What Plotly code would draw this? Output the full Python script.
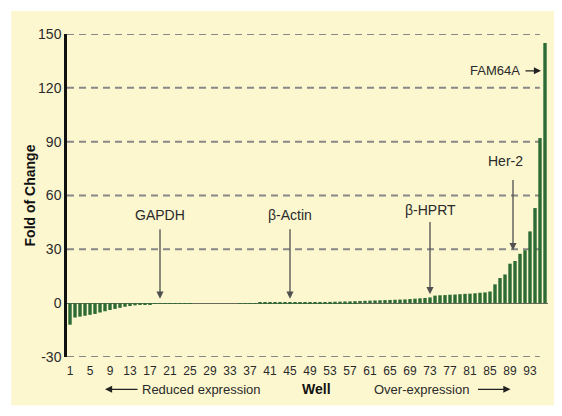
import plotly.graph_objects as go

# 96-well plate, fold of change per well (sorted)
WELLS = list(range(1, 97))
FOLD_CHANGE = [
    -12.0, -8.0, -7.5, -7.0, -6.5, -6.0, -5.2, -4.5, -3.8, -3.2,
    -2.6, -2.0, -1.6, -1.2, -0.9, -0.7, -0.5, -0.35, -0.2, -0.1,
    -0.1, -0.1, -0.05, -0.05, -0.05, 0.0, 0.0, 0.0, 0.0, 0.0,
    0.0, 0.0, 0.0, 0.0, 0.05, 0.05, 0.05, 0.05, 0.1, 0.1,
    0.1, 0.1, 0.1, 0.1, 0.15, 0.2, 0.3, 0.35, 0.4, 0.5,
    0.55, 0.6, 0.7, 0.8, 0.85, 0.95, 1.0, 1.1, 1.2, 1.3,
    1.4, 1.5, 1.6, 1.7, 1.8, 1.9, 2.0, 2.1, 2.3, 2.5,
    2.7, 2.9, 3.2, 4.2, 4.4, 4.5, 4.7, 4.8, 5.0, 5.2,
    5.3, 5.5, 5.8, 6.0, 6.5, 10.5, 14.0, 16.0, 22.0, 23.5,
    27.5, 29.5, 40.0, 53.0, 92.0, 145.0,
]

X_TICKS = list(range(1, 94, 4))
Y_TICKS = [-30, 0, 30, 60, 90, 120, 150]
Y_TICK_TEXT = ['-30', '0', '30', '60', '90', '120', '150']
GRID_Y = [-30, 30, 60, 90, 120, 150]

# gene markers: label, arrow tip (well, value), arrow tail value, label (well, value)
GENES = [
    ('GAPDH', 19, 2.5, 42, 19, 49),
    ('β-Actin', 45, 2.5, 42, 45, 49),
    ('β-HPRT', 73, 5.0, 46, 73, 52),
    ('Her-2', 89.6, 29.5, 69.5, 88.0, 79.5),
]

FONT = 'Liberation Sans, Arial, sans-serif'
CREAM = '#fcf7cf'
GREEN = '#2c6b34'
ARROW = '#505050'
TEXT = '#2a2a2a'

bars = go.Bar(
    x=WELLS, y=FOLD_CHANGE,
    marker=dict(color=GREEN, line=dict(width=0)),
    width=0.68,
    hoverinfo='x+y',
)

fig = go.Figure([bars])

shapes = [
    dict(type='rect', xref='paper', yref='paper',
         x0=-0.116, x1=1.019, y0=-0.149, y1=1.071,
         fillcolor=CREAM, line=dict(width=0), layer='below'),
]
for gy in GRID_Y:
    shapes.append(dict(type='line', xref='paper', yref='y',
                       x0=0.0, x1=0.983, y0=gy, y1=gy,
                       line=dict(color='#888888', width=2, dash='7px,5px'),
                       layer='below'))

annotations = []
for name, tx, ty, tail_y, lx, ly in GENES:
    annotations.append(dict(
        x=tx, y=ty, ax=tx, ay=tail_y, axref='x', ayref='y',
        xref='x', yref='y', text='', showarrow=True,
        arrowhead=2, arrowsize=1.1, arrowwidth=1.3, arrowcolor=ARROW,
    ))
    annotations.append(dict(
        x=lx, y=ly, xref='x', yref='y', text=name, showarrow=False,
        font=dict(family=FONT, size=14, color=TEXT),
    ))

# FAM64A with horizontal arrow
annotations.append(dict(
    x=95.2, y=129.5, ax=91.8, ay=129.5, axref='x', ayref='y',
    xref='x', yref='y', text='', showarrow=True,
    arrowhead=2, arrowsize=1.1, arrowwidth=1.3, arrowcolor='#222',
))
annotations.append(dict(
    x=86.0, y=129.5, xref='x', yref='y', text='FAM64A', showarrow=False,
    font=dict(family=FONT, size=13, color=TEXT),
))

# bottom captions
CAP_Y = -0.1
CAP = dict(xref='paper', yref='paper', xanchor='center', yanchor='middle')
annotations += [
    dict(x=0.079, y=CAP_Y, ax=34, ay=0, text='', showarrow=True,
         arrowhead=2, arrowsize=1.1, arrowwidth=1.3, arrowcolor='#222', **CAP),
    dict(x=0.279, y=CAP_Y, text='Reduced expression', showarrow=False,
         font=dict(family=FONT, size=13, color=TEXT), **CAP),
    dict(x=0.518, y=CAP_Y, text='<b>Well</b>', showarrow=False,
         font=dict(family=FONT, size=14, color='#111'), **CAP),
    dict(x=0.736, y=CAP_Y, text='Over-expression', showarrow=False,
         font=dict(family=FONT, size=13, color=TEXT), **CAP),
    dict(x=0.922, y=CAP_Y, ax=-34, ay=0, text='', showarrow=True,
         arrowhead=2, arrowsize=1.1, arrowwidth=1.3, arrowcolor='#222', **CAP),
]

# page body adds an 8px offset, so the figure is 8px smaller than the window
fig.update_layout(
    width=554, height=408,
    margin=dict(l=59, r=14, t=26, b=59),
    paper_bgcolor='white',
    plot_bgcolor='rgba(0,0,0,0)',
    showlegend=False,
    bargap=0.3,
    font=dict(family=FONT, color=TEXT),
    xaxis=dict(
        range=[0.4, 96.6],
        tickmode='array', tickvals=X_TICKS,
        tickfont=dict(family=FONT, size=12, color=TEXT),
        showgrid=False, zeroline=False, showline=False,
        ticks='outside', ticklen=3, tickcolor='rgba(0,0,0,0)',
        automargin=False, fixedrange=True,
    ),
    yaxis=dict(
        range=[-30, 150],
        tickmode='array', tickvals=Y_TICKS, ticktext=Y_TICK_TEXT,
        tickfont=dict(family=FONT, size=14, color=TEXT),
        showgrid=False,
        zeroline=True, zerolinecolor='#6a6a5a', zerolinewidth=1.2,
        showline=True, linecolor='#111', linewidth=2.5,
        ticks='', ticklen=0,
        title=dict(text='<b>Fold of Change</b>', standoff=0,
                   font=dict(family=FONT, size=14, color='#111')),
        automargin=False, fixedrange=True,
    ),
    shapes=shapes,
    annotations=annotations,
)

fig.write_html('out.html')
